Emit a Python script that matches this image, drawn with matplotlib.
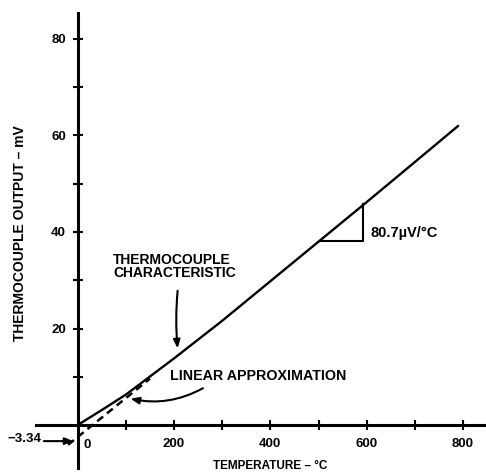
import matplotlib
matplotlib.use("Agg")
import matplotlib.pyplot as plt

# ---- data ----
temp_c = [0, 50, 100, 200, 300, 400, 500, 600, 700, 790]
output_mv = [0.0, 3.1, 6.3, 13.8, 21.6, 29.8, 38.0, 46.2, 54.5, 62.0]

lin_x = [-20, 150]
lin_y = [-4.1, 9.6]

slope_tri_x = [503, 593, 593]
slope_tri_y = [38.2, 38.2, 45.9]

x_ticks = [100, 200, 300, 400, 500, 600, 700, 800]
x_tick_labels = ["", "200", "", "400", "", "600", "", "800"]
y_ticks = [10, 20, 30, 40, 50, 60, 70, 80]
y_tick_labels = ["", "20", "", "40", "", "60", "", "80"]

intercept_label = "\u22123.34"
intercept_value = -3.34

FONT = ["Liberation Sans", "DejaVu Sans"]
plt.rcParams["font.family"] = FONT
plt.rcParams["font.weight"] = "bold"

fig = plt.figure(figsize=(4.86, 4.75), dpi=100)
fig.patch.set_facecolor("white")
ax = fig.add_axes([0, 0, 1, 1])
ax.set_xlim(-161.3, 847.7)
ax.set_ylim(-10.36, 88.08)

for s in ("top", "right"):
    ax.spines[s].set_visible(False)
ax.spines["left"].set_position(("data", 0))
ax.spines["bottom"].set_position(("data", 0))
ax.spines["left"].set_bounds(-8.9, 85.4)
ax.spines["bottom"].set_bounds(-86.6, 848)
for s in ("left", "bottom"):
    ax.spines[s].set_linewidth(2.2)

ax.set_xticks(x_ticks)
ax.set_xticklabels(x_tick_labels)
ax.set_yticks(y_ticks)
ax.set_yticklabels(y_tick_labels)
ax.tick_params(axis="both", direction="inout", length=7, width=1.5,
               labelsize=9.5)
ax.tick_params(axis="x", pad=6)
ax.tick_params(axis="y", pad=5)
for lab in ax.get_xticklabels() + ax.get_yticklabels():
    lab.set_fontweight("bold")

# thermocouple characteristic
ax.plot(temp_c, output_mv, color="black", lw=1.7, solid_capstyle="round",
        solid_joinstyle="round")
# linear approximation (dashed)
ax.plot(lin_x, lin_y, color="black", lw=1.8, linestyle=(0, (3, 2)))
# slope triangle
ax.plot(slope_tri_x, slope_tri_y, color="black", lw=1.5)

# labels
ax.text(19, -4.1, "0", ha="center", va="center", fontsize=9.5, fontweight="bold")
ax.text(-145, intercept_value + 0.4, intercept_label, ha="left", va="center",
        fontsize=9.5, fontweight="bold")
ax.annotate("", xy=(-3, intercept_value), xytext=(-76, intercept_value),
            arrowprops=dict(arrowstyle="-|>,head_length=0.5,head_width=0.2",
                            color="black", lw=1.5))

ax.text(399, -8.5, "TEMPERATURE \u2013 \u00b0C", ha="center", va="center",
        fontsize=8.5, fontweight="bold")
ax.text(-120, 39.8, "THERMOCOUPLE OUTPUT \u2013 mV", ha="center", va="center",
        rotation=90, fontsize=10, fontweight="bold")

ax.text(73.5, 35.6, "THERMOCOUPLE\nCHARACTERISTIC", ha="left", va="top",
        fontsize=10, fontweight="bold", linespacing=0.9)
ax.annotate("", xy=(208, 15.3), xytext=(208, 28.4),
            arrowprops=dict(arrowstyle="-|>,head_length=0.5,head_width=0.2",
                            color="black", lw=1.5,
                            connectionstyle="arc3,rad=0.05"))

ax.text(191.6, 10.2, "LINEAR APPROXIMATION", ha="left", va="center",
        fontsize=10.3, fontweight="bold")
ax.annotate("", xy=(104, 5.6), xytext=(265, 7.9),
            arrowprops=dict(arrowstyle="-|>,head_length=0.5,head_width=0.2",
                            color="black", lw=1.5,
                            connectionstyle="arc3,rad=-0.2"))

ax.text(607, 39.8, "80.7\u00b5V/\u00b0C", ha="left", va="center",
        fontsize=10.5, fontweight="bold")

fig.savefig("out.png", dpi=100, facecolor="white")
